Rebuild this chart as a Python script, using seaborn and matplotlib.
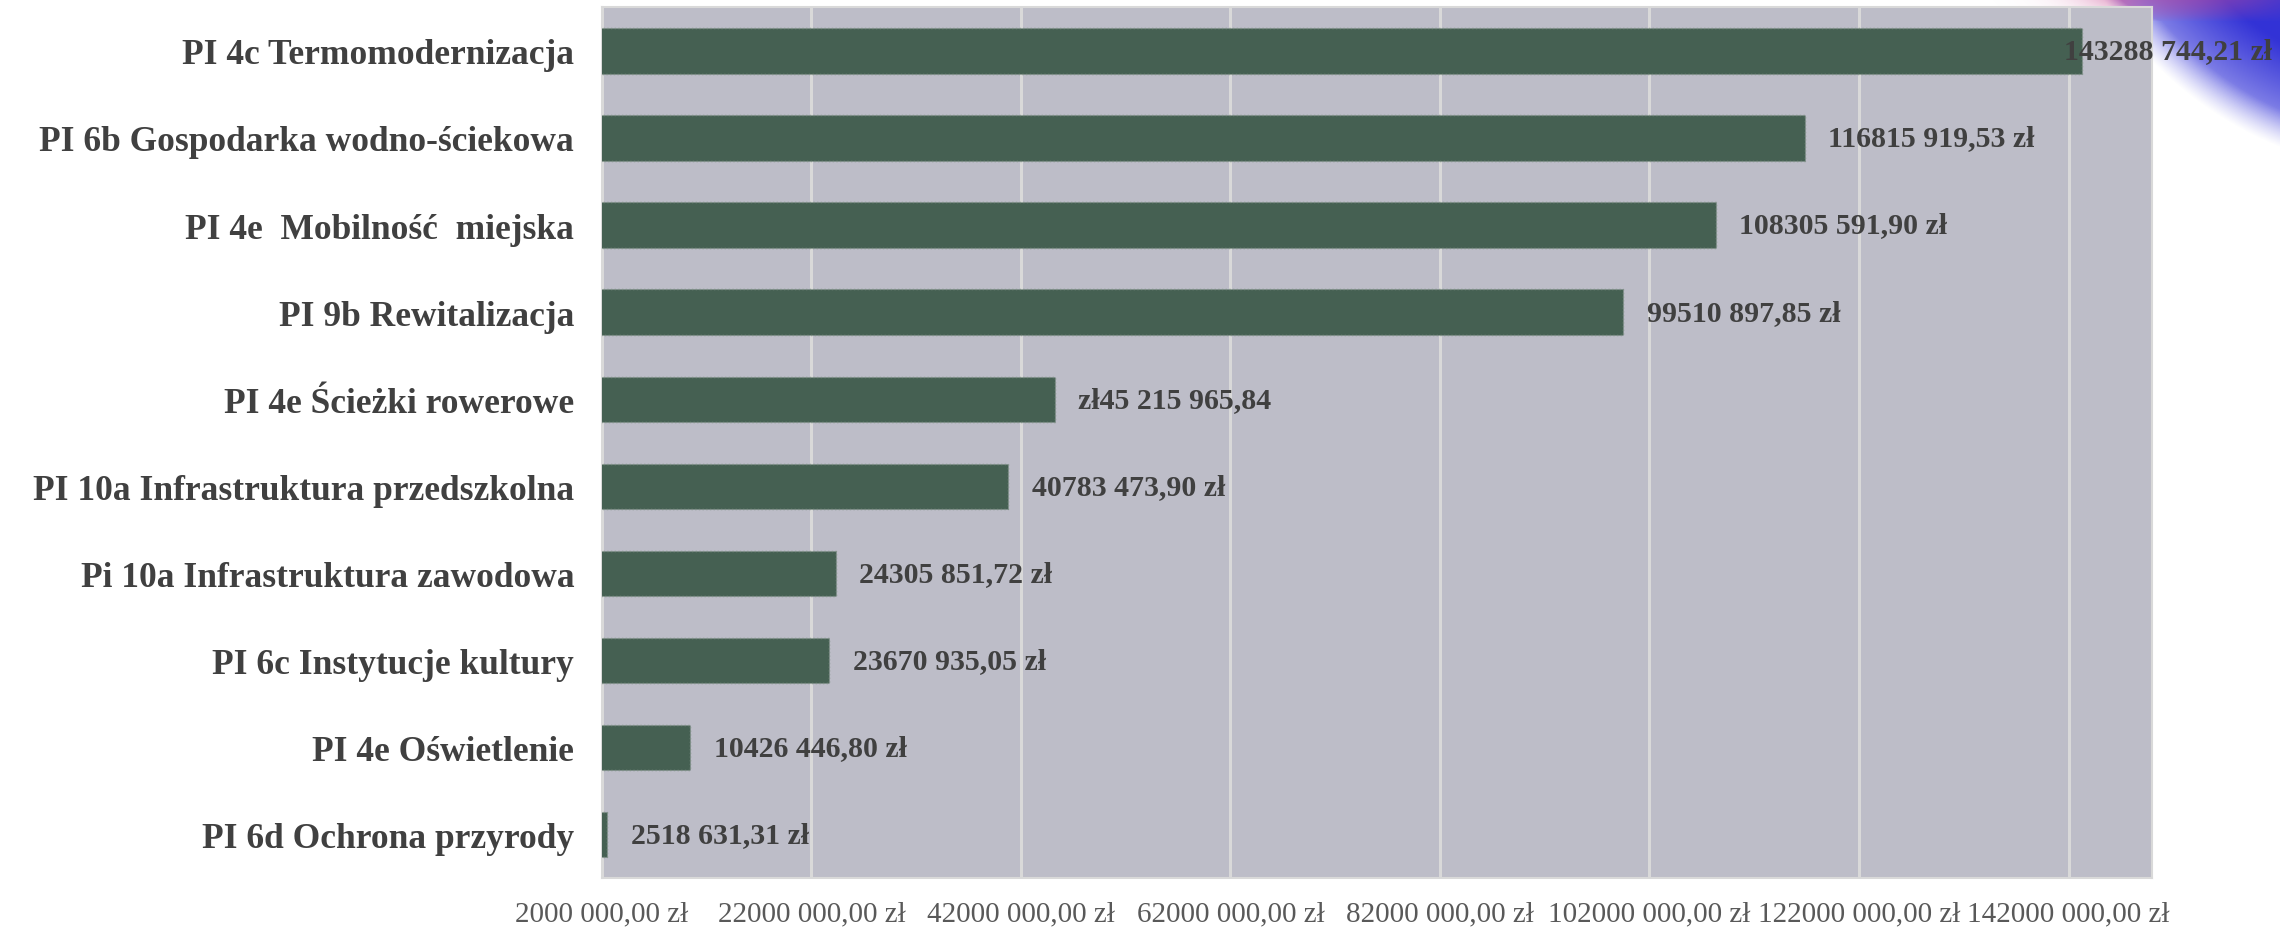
import numpy as np
import matplotlib
matplotlib.use("Agg")
import matplotlib.pyplot as plt
import pandas as pd
import seaborn as sns

# dane: kwoty wg priorytetow inwestycyjnych
kategorie = ["PI 4c Termomodernizacja", "PI 6b Gospodarka wodno-ściekowa",
             "PI 4e  Mobilność  miejska", "PI 9b Rewitalizacja",
             "PI 4e Ścieżki rowerowe", "PI 10a Infrastruktura przedszkolna",
             "Pi 10a Infrastruktura zawodowa", "PI 6c Instytucje kultury",
             "PI 4e Oświetlenie", "PI 6d Ochrona przyrody"]
kwoty = [143288744.21, 116815919.53, 108305591.90, 99510897.85, 45215965.84,
         40783473.90, 24305851.72, 23670935.05, 10426446.80, 2518631.31]
etykiety = ["143288 744,21 zł", "116815 919,53 zł", "108305 591,90 zł",
            "99510 897,85 zł", "zł45 215 965,84", "40783 473,90 zł",
            "24305 851,72 zł", "23670 935,05 zł", "10426 446,80 zł",
            "2518 631,31 zł"]
x_ticks = [2000000, 22000000, 42000000, 62000000, 82000000,
           102000000, 122000000, 142000000]

df = pd.DataFrame({"kategoria": kategorie, "kwota": kwoty})

sns.set_style("white")
plt.rcParams["font.family"] = ["Liberation Serif", "DejaVu Serif"]

fig = plt.figure(figsize=(22.8, 9.28), dpi=100)

# dekoracja w prawym gornym rogu (kolo z gradientem)
bg = fig.add_axes([0, 0, 1, 1], zorder=-1)
bg.set_axis_off()
W, H = 2280, 928
yy, xx = np.mgrid[0:260, 1980:W]
d = np.hypot(xx - 2420, yy + 200)
a_blue = np.clip((375 - d) / 35, 0, 1)
a_pink = np.clip((22 - yy) / 22, 0, 1) * np.exp(-((xx - 2180) / 80.0) ** 2)
inner = np.clip((375 - d) / 95, 0, 1) ** 0.8
blue = np.array([0.72, 0.72, 0.95])[None, None, :] * (1 - inner[..., None]) + \
    np.array([0.2, 0.2, 0.84])[None, None, :] * inner[..., None]
mag = np.array([0.8, 0.3, 0.58])
w = a_pink / np.maximum(a_pink + a_blue, 1e-6)
img = np.zeros(xx.shape + (4,))
img[..., :3] = blue * (1 - w[..., None]) + mag * w[..., None]
img[..., 3] = np.clip(a_blue + a_pink, 0, 1)
bg.imshow(img, extent=(1980, W, 260, 0), aspect="auto")
bg.set_xlim(0, W)
bg.set_ylim(H, 0)

ax = fig.add_axes([0.264, 0.0528, 0.68, 0.9382])
ax.set_facecolor("#bdbdc8")

sns.barplot(data=df, x="kwota", y="kategoria", orient="h", color="#456052",
            saturation=1, width=0.52, edgecolor="#7f9086", linewidth=1.0,
            linestyle=":", ax=ax, zorder=3)

ax.set_xlim(2000000, 150000000)
ax.set_ylim(9.5, -0.5)
ax.set_xticks(x_ticks)
ax.set_xticklabels([f"{v // 1000000}000 000,00 zł" for v in x_ticks],
                   fontsize=21, color="#595959")
ax.tick_params(axis="x", length=0, pad=16)
ax.tick_params(axis="y", length=0, pad=20)
for t in ax.get_yticklabels():
    t.set_fontsize(25.5)
    t.set_fontweight("bold")
    t.set_color("#404040")

ax.grid(axis="x", color="#d9d9d9", linewidth=2.2, zorder=0)
ax.set_axisbelow(True)
for s in ax.spines.values():
    s.set_color("#d9d9d9")
    s.set_linewidth(1.5)

ax.set_xlabel("")
ax.set_ylabel("")

# etykiety wartosci
for i, (v, txt) in enumerate(zip(kwoty, etykiety)):
    off = -13 if i == 0 else 17
    ax.annotate(txt, xy=(v, i), xytext=(off, 0), textcoords="offset points",
                va="center", ha="left", fontsize=21.5, fontweight="bold",
                color="#404040", zorder=5, annotation_clip=False)

plt.savefig("out.png", dpi=100)
